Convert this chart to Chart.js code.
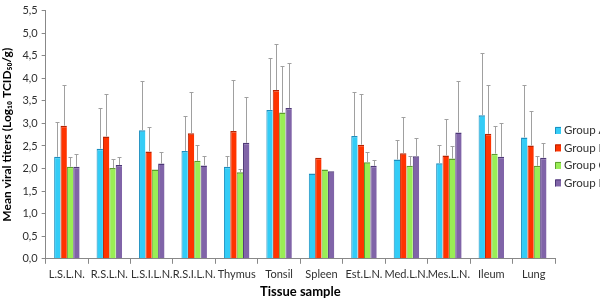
<!DOCTYPE html>
<html>
<head>
<meta charset="utf-8">
<script src="https://cdn.jsdelivr.net/npm/chart.js@4/dist/chart.umd.min.js"></script>
<style>
html,body{margin:0;padding:0;background:#fff;overflow:hidden;}
#wrap{position:relative;width:600px;height:299px;}
</style>
</head>
<body>
<div id="wrap"><canvas id="c"></canvas></div>
<script>
const categories = ["L.S.L.N.","R.S.L.N.","L.S.I.L.N.","R.S.I.L.N.","Thymus","Tonsil","Spleen","Est.L.N.","Med.L.N.","Mes.L.N.","Ileum","Lung"];
const seriesNames = ["Group A","Group B","Group C","Group D"];
const groupA = [2.26,2.44,2.85,2.39,2.04,3.30,1.89,2.72,2.20,2.12,3.18,2.69];
const groupB = [2.95,2.71,2.38,2.78,2.83,3.74,2.24,2.53,2.34,2.29,2.77,2.51];
const groupC = [2.04,2.01,1.98,2.17,1.92,3.24,1.98,2.14,2.06,2.22,2.33,2.06];
const groupD = [2.04,2.08,2.11,2.07,2.57,3.34,1.94,2.06,2.27,2.80,2.26,2.24];
const sdA = [0.77,0.91,1.08,0.77,0.24,1.14,0,0.97,0.44,0.40,1.39,1.16];
const sdB = [0.90,0.94,0.54,0.91,1.14,1.03,0,1.13,0.80,0.81,1.09,0.77];
const sdC = [0.22,0.20,0,0.36,0.07,1.03,0,0.23,0.21,0.29,0.62,0.22];
const sdD = [0.28,0.18,0.26,0.21,1.01,1.00,0,0.13,0.40,1.13,0.75,0.33];
const yTicks = [0,0.5,1,1.5,2,2.5,3,3.5,4,4.5,5,5.5];

const fills = ["#33CCF6","#FF3300","#99EE55","#8064A8"];
const edges = ["#1A8FC0","#B82200","#5E9E2E","#4E3878"];
const values = [groupA,groupB,groupC,groupD];
const sds = [sdA,sdB,sdC,sdD];

const errorBars = {
  id:'errorBars',
  afterDatasetsDraw(chart){
    const ctx = chart.ctx, y = chart.scales.y;
    ctx.save();
    ctx.strokeStyle = "#A0A0A0";
    ctx.lineWidth = 1;
    chart.data.datasets.forEach((ds,i)=>{
      const meta = chart.getDatasetMeta(i);
      meta.data.forEach((bar,j)=>{
        const sd = ds.sd[j];
        if(!sd) return;
        const x = Math.round(bar.x)+0.5;
        const y0 = y.getPixelForValue(ds.data[j]);
        const y1 = Math.round(y.getPixelForValue(ds.data[j]+sd))+0.5;
        ctx.beginPath();
        ctx.moveTo(x,y0); ctx.lineTo(x,y1);
        ctx.moveTo(x-2,y1); ctx.lineTo(x+2,y1);
        ctx.stroke();
      });
    });
    ctx.restore();
  }
};

// legend drawn next to the plot area, running off the right edge like the original
const sideLegend = {
  id:'sideLegend',
  afterDraw(chart){
    const ctx = chart.ctx, a = chart.chartArea;
    const mid = (a.top+a.bottom)/2 + 22;
    const step = 17.5;
    ctx.save();
    ctx.font = "11.5px Lato";
    ctx.textBaseline = 'middle';
    chart.data.datasets.forEach((ds,i)=>{
      const cy = mid + (i-1.5)*step;
      const x0 = a.right;
      ctx.fillStyle = ds.backgroundColor;
      ctx.fillRect(x0, cy-3.5, 6, 7);
      ctx.strokeStyle = ds.borderColor;
      ctx.lineWidth = 1;
      ctx.beginPath();
      ctx.moveTo(x0+0.5, cy+3.5); ctx.lineTo(x0+0.5, cy-3.5+0.5); ctx.lineTo(x0+6, cy-3.5+0.5);
      ctx.stroke();
      ctx.fillStyle = '#303030';
      ctx.fillText(ds.label, x0+9, cy);
    });
    ctx.restore();
  }
};

new Chart(document.getElementById('c'),{
  type:'bar',
  data:{
    labels:categories,
    datasets:seriesNames.map((n,i)=>({
      label:n,
      data:values[i],
      sd:sds[i],
      backgroundColor:fills[i],
      borderColor:edges[i],
      borderWidth:{top:1.5,left:1,right:0,bottom:0},
      borderSkipped:false,
      categoryPercentage:0.6,
      barPercentage:1.0
    }))
  },
  options:{
    responsive:true,
    maintainAspectRatio:false,
    animation:false,
    layout:{padding:{left:0,top:-5,right:45,bottom:0}},
    plugins:{
      legend:{display:false},
      tooltip:{enabled:false}
    },
    scales:{
      x:{
        grid:{display:true,drawOnChartArea:false,drawTicks:true,tickLength:5,color:'#888',offset:true},
        border:{display:true,color:'#888'},
        ticks:{color:'#303030',font:{family:'Lato',size:11},padding:4,maxRotation:0,autoSkip:false},
        title:{display:true,text:'Tissue sample',color:'#000',font:{family:'Lato',size:13,weight:'bold',lineHeight:1.0},padding:{top:0,bottom:1}}
      },
      y:{
        min:0,max:5.5,
        afterBuildTicks(s){ s.ticks = yTicks.map(v=>({value:v})); },
        grid:{display:true,drawOnChartArea:false,drawTicks:true,tickLength:4,color:'#888'},
        border:{display:true,color:'#888'},
        ticks:{color:'#303030',font:{family:'Lato',size:11},padding:4,
          callback:v=>v.toFixed(1).replace('.',',')},
        title:{display:true,text:'Mean viral titers (Log₁₀ TCID₅₀/g)',color:'#000',font:{family:'Lato',size:12,weight:'bold'},padding:{top:0,bottom:4}}
      }
    }
  },
  plugins:[errorBars,sideLegend]
});
</script>
</body>
</html>
